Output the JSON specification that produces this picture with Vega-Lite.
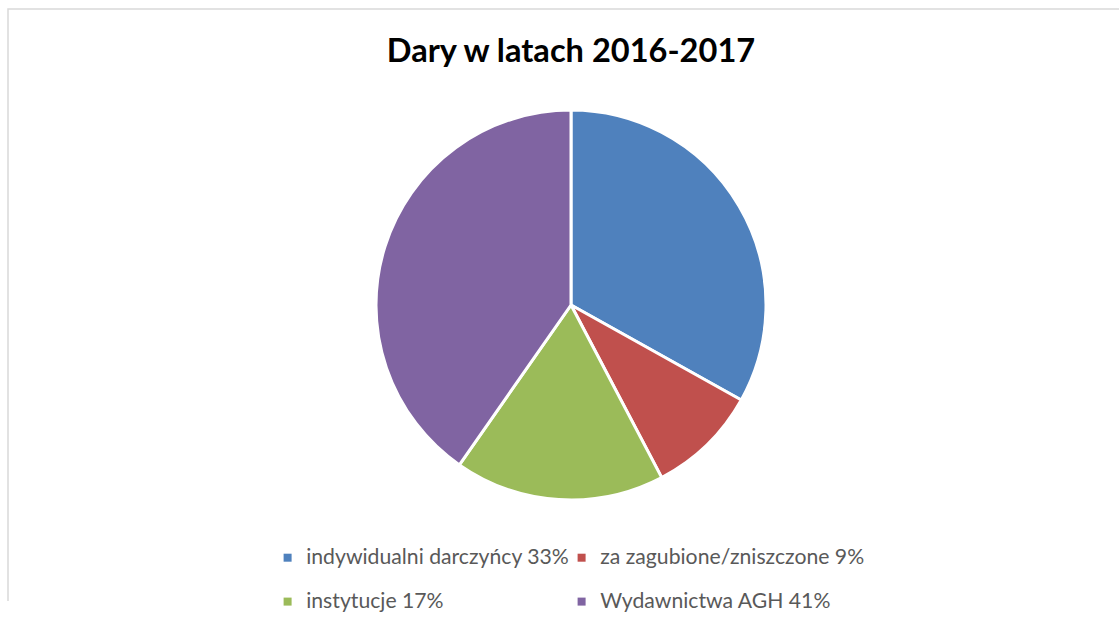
{
  "$schema": "https://vega.github.io/schema/vega-lite/v6.json",
  "width": 1126,
  "height": 592,
  "autosize": {"type": "none"},
  "padding": {"left": 8, "top": 9, "right": 0, "bottom": 27},
  "background": "white",
  "view": {"stroke": "#d9d9d9", "strokeWidth": 1.5, "strokeDash": [1718, 1126, 620, 0]},
  "title": {
    "text": "Dary w latach 2016-2017",
    "font": "Lato",
    "fontWeight": "bold",
    "fontSize": 32.6,
    "color": "#000000",
    "anchor": "middle",
    "frame": "group",
    "baseline": "alphabetic",
    "offset": -86
  },
  "data": {
    "values": [
      {"idx": 1, "category": "indywidualni darczyńcy 33%", "value": 33.1},
      {"idx": 2, "category": "za zagubione/zniszczone 9%", "value": 9.2},
      {"idx": 3, "category": "instytucje 17%", "value": 17.4},
      {"idx": 4, "category": "Wydawnictwa AGH 41%", "value": 40.3}
    ]
  },
  "mark": {"type": "arc", "outerRadius": 195, "stroke": "white", "strokeWidth": 3, "clip": false},
  "encoding": {
    "theta": {"field": "value", "type": "quantitative", "stack": true},
    "order": {"field": "idx", "type": "quantitative"},
    "color": {
      "field": "category",
      "type": "nominal",
      "scale": {
        "domain": ["indywidualni darczyńcy 33%", "za zagubione/zniszczone 9%", "instytucje 17%", "Wydawnictwa AGH 41%"],
        "range": ["#4f81bd", "#c0504d", "#9bbb59", "#8064a2"]
      },
      "legend": {
        "title": null,
        "orient": "none",
        "legendX": 269,
        "legendY": 538,
        "columns": 2,
        "direction": "horizontal",
        "symbolType": "square",
        "symbolSize": 64,
        "symbolStrokeWidth": 0,
        "labelFont": "Lato",
        "labelFontSize": 21.2,
        "labelColor": "#595959",
        "labelOffset": 8,
        "labelLimit": 0,
        "columnPadding": 1,
        "rowPadding": 22
      }
    }
  }
}
